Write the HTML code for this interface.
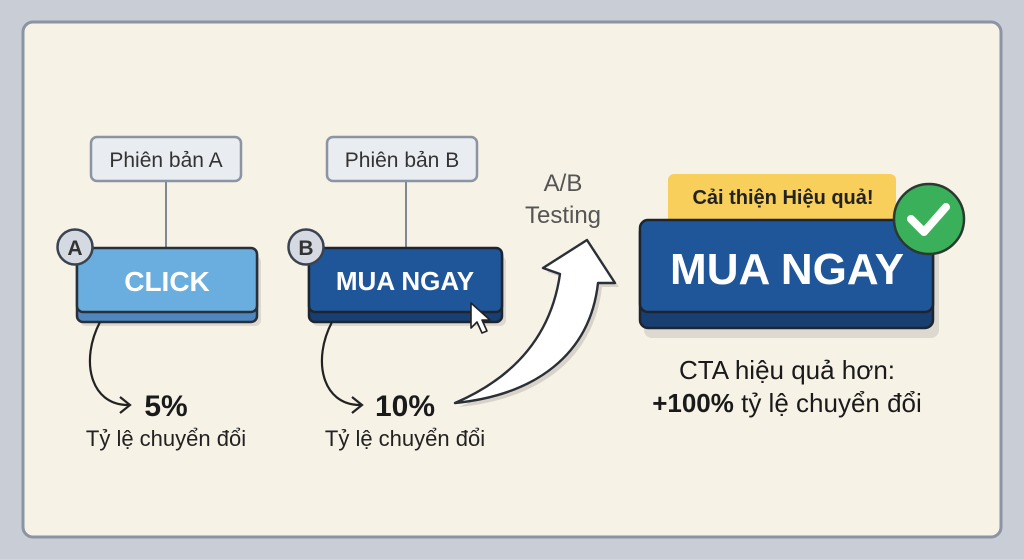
<!DOCTYPE html>
<html><head><meta charset="utf-8"><style>
body{margin:0;width:1024px;height:559px;background:#c9ced6;overflow:hidden}
svg{display:block}
text{font-family:"Liberation Sans","DejaVu Sans",sans-serif}
</style></head><body>
<svg width="1024" height="559" viewBox="0 0 1024 559">
<rect x="0" y="0" width="1024" height="559" fill="#c9ced6"/>
<rect x="23" y="22" width="978" height="515" rx="10" fill="#f7f2e6" stroke="#8a94a3" stroke-width="3"/>
<line x1="166" y1="181" x2="166" y2="250" stroke="#7f8894" stroke-width="2"/>
<line x1="406" y1="181" x2="406" y2="250" stroke="#7f8894" stroke-width="2"/>
<rect x="91" y="137" width="150" height="44" rx="6" fill="#e9ecf0" stroke="#8a94a3" stroke-width="2.5"/>
<text x="166" y="167" font-size="21" text-anchor="middle" fill="#333">Phiên bản A</text>
<rect x="327" y="137" width="150" height="44" rx="6" fill="#e9ecf0" stroke="#8a94a3" stroke-width="2.5"/>
<text x="402" y="167" font-size="21" text-anchor="middle" fill="#333">Phiên bản B</text>
<!-- Button A -->
<rect x="80" y="256" width="181" height="70" rx="6" fill="#d2cfc6" opacity=".7"/>
<rect x="77" y="250" width="180" height="72" rx="6" fill="#4f86bd" stroke="#27303b" stroke-width="2.5"/>
<rect x="77" y="248" width="180" height="64" rx="6" fill="#6aaee0" stroke="#27303b" stroke-width="2.5"/>
<text x="167" y="291" font-size="28" font-weight="bold" text-anchor="middle" fill="#fff">CLICK</text>
<circle cx="75" cy="247" r="17.5" fill="#d5dae2" stroke="#3a4350" stroke-width="2.5"/>
<text x="75" y="255" font-size="21" font-weight="bold" text-anchor="middle" fill="#333">A</text>
<!-- Button B -->
<rect x="312" y="256" width="194" height="70" rx="6" fill="#d2cfc6" opacity=".7"/>
<rect x="309" y="250" width="193" height="72" rx="6" fill="#173f72" stroke="#1d2530" stroke-width="2.5"/>
<rect x="309" y="248" width="193" height="64" rx="6" fill="#1f569a" stroke="#1d2530" stroke-width="2.5"/>
<text x="405" y="290" font-size="26" font-weight="bold" text-anchor="middle" fill="#fff">MUA NGAY</text>
<circle cx="306" cy="247" r="17.5" fill="#d5dae2" stroke="#3a4350" stroke-width="2.5"/>
<text x="306" y="255" font-size="21" font-weight="bold" text-anchor="middle" fill="#333">B</text>
<path d="M471 303 L471 328 L477 322 L482 333 L487 331 L482 320 L490 320 Z" fill="#fff" stroke="#222" stroke-width="1.6" stroke-linejoin="round"/>
<!-- curve arrows -->
<path d="M100 322 C80 360 90 405 128 405" fill="none" stroke="#222" stroke-width="2.2"/>
<path d="M120 397 L130 405 L120 413" fill="none" stroke="#222" stroke-width="2.2"/>
<path d="M332 322 C312 360 322 405 360 405" fill="none" stroke="#222" stroke-width="2.2"/>
<path d="M352 397 L362 405 L352 413" fill="none" stroke="#222" stroke-width="2.2"/>
<text x="166" y="416" font-size="30" font-weight="bold" text-anchor="middle" fill="#1a1a1a">5%</text>
<text x="166" y="446" font-size="22" text-anchor="middle" fill="#222">Tỷ lệ chuyển đổi</text>
<text x="405" y="416" font-size="30" font-weight="bold" text-anchor="middle" fill="#1a1a1a">10%</text>
<text x="405" y="446" font-size="22" text-anchor="middle" fill="#222">Tỷ lệ chuyển đổi</text>
<!-- big arrow -->
<path transform="translate(4,4)" d="M455 403 C520 375 552 330 560 274 L543 268 L587 240 L615 283 L598 283 C590 355 535 395 455 403 Z" fill="#cfcbc2" opacity=".8"/>
<path d="M455 403 C520 375 552 330 560 274 L543 268 L587 240 L615 283 L598 283 C590 355 535 395 455 403 Z" fill="#fff" stroke="#2a2f38" stroke-width="2.4" stroke-linejoin="round"/>
<text x="563" y="191" font-size="24" text-anchor="middle" fill="#555">A/B</text>
<text x="563" y="223" font-size="24" text-anchor="middle" fill="#555">Testing</text>
<!-- tag -->
<rect x="668" y="174" width="228" height="56" rx="6" fill="#f7cf5a"/>
<text x="783" y="204" font-size="20" font-weight="bold" text-anchor="middle" fill="#222">Cải thiện Hiệu quả!</text>
<!-- big button -->
<rect x="644" y="230" width="295" height="108" rx="8" fill="#d2cfc6" opacity=".7"/>
<rect x="640" y="224" width="293" height="104" rx="8" fill="#173f72" stroke="#1d2530" stroke-width="2.5"/>
<rect x="640" y="220" width="293" height="92" rx="8" fill="#1f569a" stroke="#1d2530" stroke-width="2.5"/>
<text x="787" y="284" font-size="44" font-weight="bold" text-anchor="middle" fill="#fff">MUA NGAY</text>
<circle cx="929" cy="219" r="35" fill="#3bb05a" stroke="#2a3a30" stroke-width="2.5"/>
<path d="M911 219 L924 232 L946 207" fill="none" stroke="#fff" stroke-width="8" stroke-linecap="round" stroke-linejoin="round"/>
<text x="787" y="379" font-size="26" text-anchor="middle" fill="#1a1a1a">CTA hiệu quả hơn:</text>
<text x="787" y="412" font-size="26" text-anchor="middle" fill="#1a1a1a"><tspan font-weight="bold">+100%</tspan> tỷ lệ chuyển đổi</text>
</svg>
</body></html>
